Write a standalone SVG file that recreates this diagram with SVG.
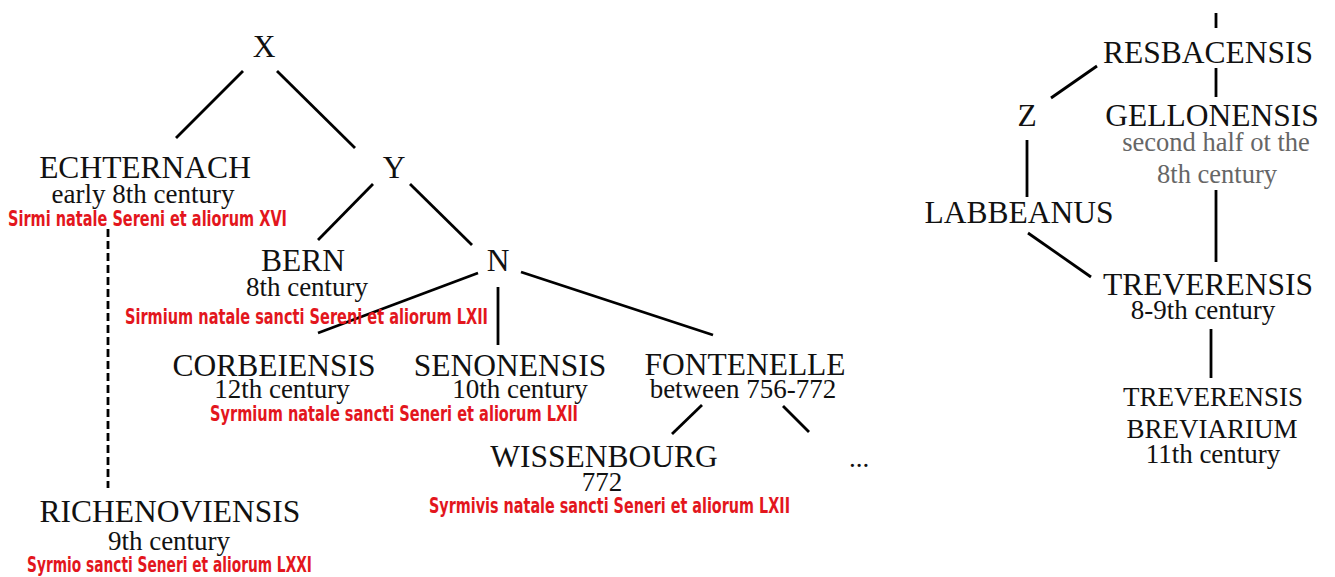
<svg xmlns="http://www.w3.org/2000/svg" width="1335" height="577" viewBox="0 0 1335 577">
<style>
.nm{font-family:"Liberation Serif","Times New Roman",serif;font-size:31.5px;fill:#111;text-anchor:middle}
.dt{font-family:"Liberation Serif","Times New Roman",serif;font-size:27px;fill:#111;text-anchor:middle}
.gr{font-family:"Liberation Serif","Times New Roman",serif;font-size:26.5px;fill:#666;text-anchor:middle}
.rd{font-family:"Liberation Sans Narrow","DejaVu Sans Condensed","Liberation Sans",sans-serif;font-size:20.5px;font-weight:bold;fill:#e3161d;text-anchor:start}
.ln{stroke:#000;stroke-width:2.8;fill:none;stroke-linecap:butt}
.ds{stroke-dasharray:8 4}
</style>
<rect width="1335" height="577" fill="#fff"/>
<g id="connectors">
<line class="ln" x1="243" y1="71" x2="176" y2="138"/>
<line class="ln" x1="277" y1="71" x2="355" y2="148"/>
<line class="ln" x1="373" y1="184" x2="318" y2="240"/>
<line class="ln" x1="410" y1="184" x2="472" y2="245"/>
<line class="ln" x1="478" y1="273" x2="318" y2="333"/>
<line class="ln" x1="498" y1="287" x2="498" y2="345"/>
<line class="ln" x1="521" y1="272" x2="713" y2="335"/>
<line class="ln" x1="702" y1="405" x2="672" y2="434"/>
<line class="ln" x1="783" y1="406" x2="809" y2="432"/>
<line class="ln ds" x1="108" y1="229" x2="108" y2="488"/>
<line class="ln" x1="1216" y1="13" x2="1216" y2="28"/>
<line class="ln" x1="1216" y1="68" x2="1216" y2="97"/>
<line class="ln" x1="1097" y1="66" x2="1051" y2="98"/>
<line class="ln" x1="1027" y1="140" x2="1027" y2="197"/>
<line class="ln" x1="1028" y1="233" x2="1091" y2="277"/>
<line class="ln" x1="1216" y1="190" x2="1216" y2="262"/>
<line class="ln" x1="1211" y1="329" x2="1211" y2="378"/>
</g>
<g id="node-X"><text class="nm" x="264" y="57">X</text></g>
<g id="node-ECHTERNACH">
<text class="nm" x="145" y="178">ECHTERNACH</text>
<text class="dt" x="143" y="203">early 8th century</text>
<text class="rd" x="8" y="226" textLength="279" lengthAdjust="spacingAndGlyphs">Sirmi natale Sereni et aliorum XVI</text>
</g>
<g id="node-Y"><text class="nm" x="394" y="178">Y</text></g>
<g id="node-BERN">
<text class="nm" x="303" y="271">BERN</text>
<text class="dt" x="307" y="296">8th century</text>
<text class="rd" x="125" y="324" textLength="363" lengthAdjust="spacingAndGlyphs">Sirmium natale sancti Sereni et aliorum LXII</text>
</g>
<g id="node-N"><text class="nm" x="498" y="271">N</text></g>
<g id="node-CORBEIENSIS">
<text class="nm" x="274" y="376">CORBEIENSIS</text>
<text class="dt" x="282" y="398">12th century</text>
<text class="rd" x="210" y="421" textLength="368" lengthAdjust="spacingAndGlyphs">Syrmium natale sancti Seneri et aliorum LXII</text>
</g>
<g id="node-SENONENSIS">
<text class="nm" x="510" y="376">SENONENSIS</text>
<text class="dt" x="520" y="398">10th century</text>
</g>
<g id="node-FONTENELLE">
<text class="nm" x="745" y="375">FONTENELLE</text>
<text class="dt" x="743" y="398">between 756-772</text>
</g>
<g id="node-WISSENBOURG">
<text class="nm" x="604" y="467">WISSENBOURG</text>
<text class="dt" x="602" y="491">772</text>
<text class="rd" x="429" y="513" textLength="361" lengthAdjust="spacingAndGlyphs">Syrmivis natale sancti Seneri et aliorum LXII</text>
</g>
<g id="node-ellipsis"><text class="dt" x="859" y="467">...</text></g>
<g id="node-RICHENOVIENSIS">
<text class="nm" x="170" y="522">RICHENOVIENSIS</text>
<text class="dt" x="169" y="550">9th century</text>
<text class="rd" x="27" y="572" textLength="285" lengthAdjust="spacingAndGlyphs">Syrmio sancti Seneri et aliorum LXXI</text>
</g>
<g id="node-RESBACENSIS"><text class="nm" x="1208" y="63">RESBACENSIS</text></g>
<g id="node-Z"><text class="nm" x="1027" y="126">Z</text></g>
<g id="node-GELLONENSIS">
<text class="nm" x="1212" y="126">GELLONENSIS</text>
<text class="gr" x="1216" y="151">second half ot the</text>
<text class="gr" x="1217" y="183">8th century</text>
</g>
<g id="node-LABBEANUS"><text class="nm" x="1019" y="223">LABBEANUS</text></g>
<g id="node-TREVERENSIS">
<text class="nm" x="1208" y="295">TREVERENSIS</text>
<text class="dt" x="1203" y="319">8-9th century</text>
</g>
<g id="node-TREVERENSIS-BREVIARIUM">
<text class="dt" x="1213" y="406">TREVERENSIS</text>
<text class="dt" x="1212" y="438">BREVIARIUM</text>
<text class="dt" x="1213" y="463">11th century</text>
</g>
</svg>
